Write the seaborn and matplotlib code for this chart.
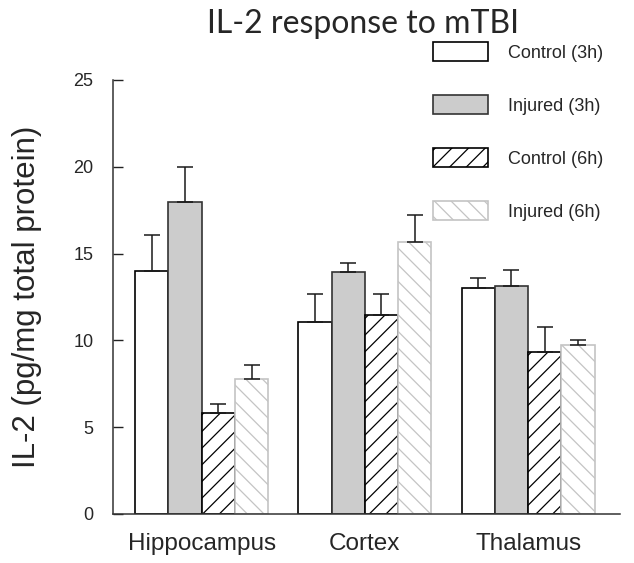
import matplotlib
matplotlib.use("Agg")
import matplotlib.pyplot as plt
import matplotlib.patches as mpatches
import seaborn as sns
import pandas as pd

# IL-2 levels (pg/mg total protein), mean and upper SEM per region and group
regions = ["Hippocampus", "Cortex", "Thalamus"]
groups = ["Control (3h)", "Injured (3h)", "Control (6h)", "Injured (6h)"]
means = {
    "Control (3h)": [14.0, 11.05, 13.02],
    "Injured (3h)": [18.0, 13.95, 13.15],
    "Control (6h)": [5.8, 11.45, 9.35],
    "Injured (6h)": [7.8, 15.65, 9.75],
}
sems = {
    "Control (3h)": [2.05, 1.6, 0.55],
    "Injured (3h)": [2.0, 0.52, 0.92],
    "Control (6h)": [0.55, 1.2, 1.45],
    "Injured (6h)": [0.78, 1.58, 0.25],
}
yticks = [0, 5, 10, 15, 20, 25]

# Bar styling per group
faces = ["white", "#cccccc", "white", "white"]
edges = ["black", "#333333", "black", "#c4c4c4"]
hatches = [None, None, "//", "\\\\"]

rows = []
for g in groups:
    for r, m in zip(regions, means[g]):
        rows.append({"region": r, "group": g, "value": m})
df = pd.DataFrame(rows)

sns.set_style("ticks")
plt.rcParams["font.family"] = ["Liberation Sans", "DejaVu Sans"]
plt.rcParams["hatch.linewidth"] = 0.9

fig = plt.figure(figsize=(6.34, 5.63), dpi=100)
ax = fig.add_axes([113 / 634, 1 - 514 / 563, (620 - 113) / 634, (514 - 80) / 563])

sns.barplot(data=df, x="region", y="value", hue="group", order=regions,
            hue_order=groups, width=0.815, errorbar=None, legend=False,
            palette=faces, saturation=1, ax=ax)

for i, (cont, g) in enumerate(zip(ax.containers, groups)):
    xs, ys = [], []
    for p in cont.patches:
        p.set_facecolor(faces[i])
        p.set_edgecolor(edges[i])
        p.set_linewidth(1.2)
        if hatches[i]:
            p.set_hatch(hatches[i])
        xs.append(p.get_x() + p.get_width() / 2)
        ys.append(p.get_height())
    ax.errorbar(xs, ys, yerr=[[0] * len(ys), sems[g]], fmt="none",
                ecolor="#1a1a1a", elinewidth=1.1, capsize=5.8, capthick=1.1,
                zorder=1)

ax.set_xlim(-0.543, 2.563)
ax.set_ylim(0, 25)
ax.set_yticks(yticks)
ax.tick_params(axis="y", direction="in", length=7, width=1, pad=14,
               labelsize=13, color="#222222")
ax.tick_params(axis="x", length=0, pad=14, labelsize=17.5)
for s in ["top", "right"]:
    ax.spines[s].set_visible(False)
for s in ["left", "bottom"]:
    ax.spines[s].set_color("#333333")
    ax.spines[s].set_linewidth(1.1)
ax.set_xlabel("")
ax.set_ylabel("IL-2 (pg/mg total protein)", fontsize=22.5)
ax.yaxis.set_label_coords(-0.14, 0.5)

fig.text(363 / 634, 1 - 24 / 563, "IL-2 response to mTBI", ha="center",
         va="center", fontsize=23, family=["Lato", "DejaVu Sans"])

handles = [mpatches.Patch(facecolor=faces[i], edgecolor=edges[i],
                          hatch=hatches[i], linewidth=1.2, label=g)
           for i, g in enumerate(groups)]
fig.legend(handles=handles, loc="upper left",
           bbox_to_anchor=(433 / 634, 1 - 42 / 563), frameon=False,
           fontsize=13, handlelength=3.05, handleheight=1.28,
           handletextpad=1.1, labelspacing=1.84, borderpad=0,
           borderaxespad=0)

fig.savefig("out.png", dpi=100)
